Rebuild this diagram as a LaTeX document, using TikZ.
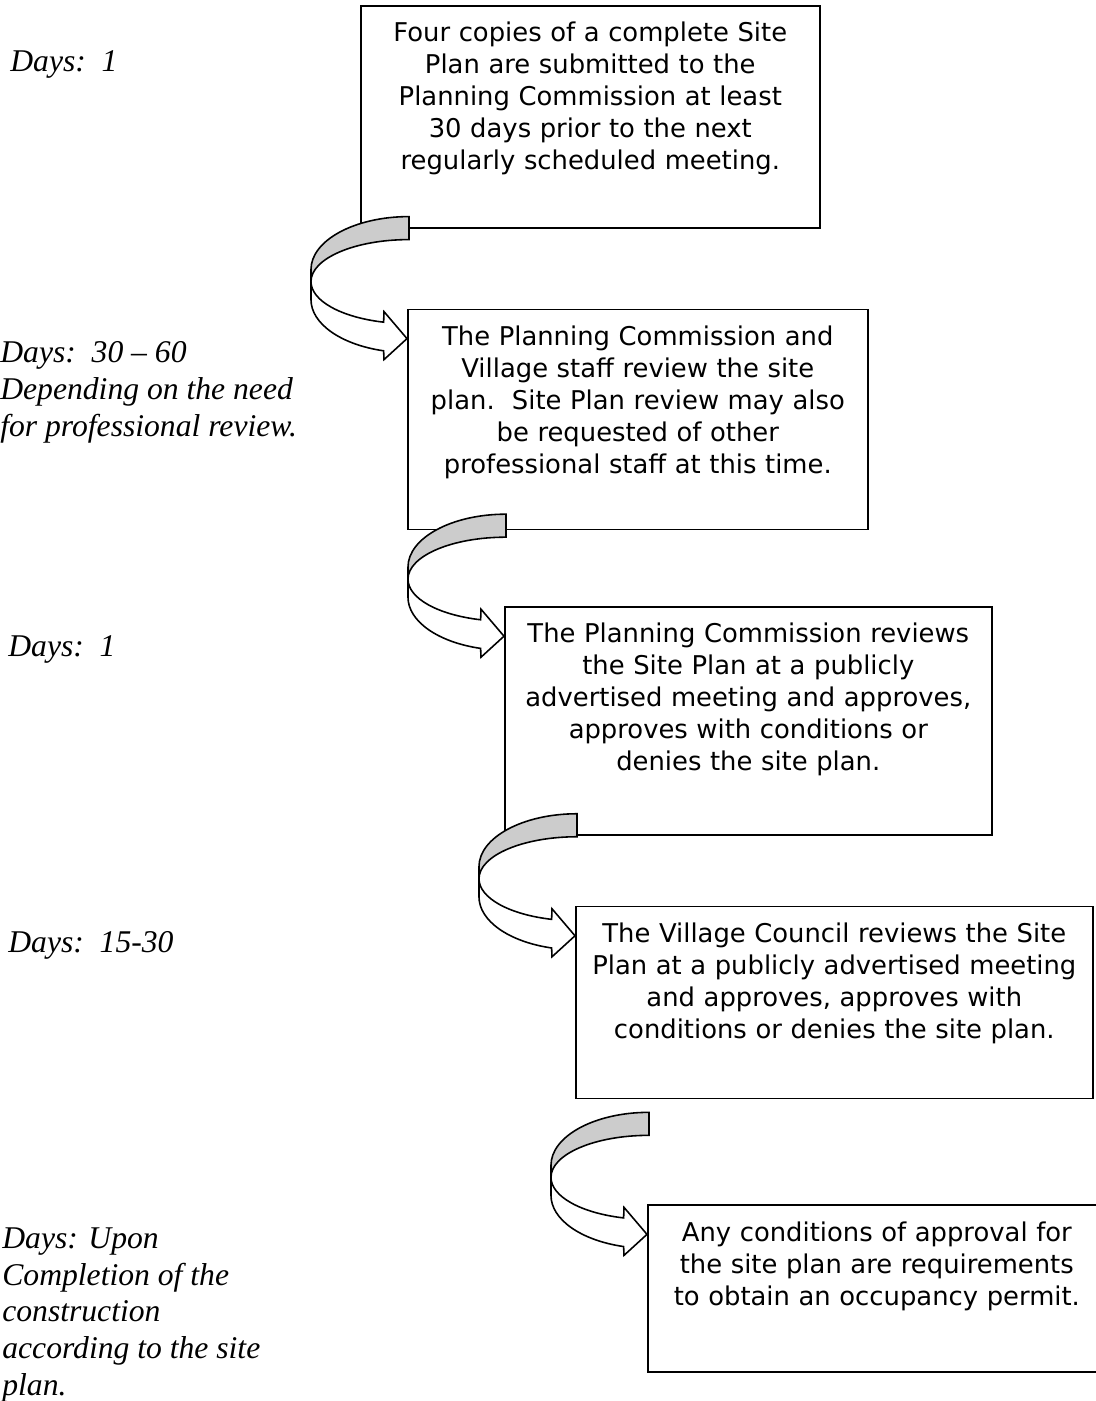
\documentclass[tikz,border=0pt]{standalone}
\usepackage{fontspec}
\setmainfont{Liberation Serif}
\newfontfamily\boxfont{DejaVu Sans}
\usetikzlibrary{positioning, calc}
\definecolor{bandgray}{RGB}{204,204,204}

\begin{document}
\begin{tikzpicture}[
  %% process boxes
  stepbox/.style={
    rectangle, draw=black, line width=0.9pt,
    anchor=north west, inner sep=0pt, align=center,
    text height=0.72cm,
    font=\boxfont\fontsize{14.7}{18.2}\selectfont
  },
  %% day labels (left margin), anchored on the last line
  days/.style={
    anchor=base west, inner sep=0pt, align=left,
    font=\itshape\fontsize{18}{20.8}\selectfont
  },
  %% outline of the curved arrows
  bandline/.style={draw=black, line width=0.9pt, line join=miter},
  %% curved block arrow, origin at the top of its tail
  bendarrow/.pic={
    \begin{scope}[x=0.02cm, y=0.02cm]
      %% back of the band
      \path[bandline, fill=bandgray] (0,0)
        arc[start angle=90, end angle=180, x radius=98, y radius=53]
        -- (-98,-65)
        arc[start angle=180, end angle=90, x radius=98, y radius=42]
        -- cycle;
      %% front of the band and the head
      \path[bandline, fill=white] (-98,-65) -- (-98,-83)
        arc[start angle=180, end angle=255, x radius=98, y radius=53]
        -- (-25,-143) -- (-2,-122) -- (-25,-95) -- (-25.36,-105.57)
        arc[start angle=255, end angle=180, x radius=98, y radius=42]
        -- cycle;
    \end{scope}
  }
]
\useasboundingbox (0,0) rectangle (21.92,-28.02);

%% ================================================================
%% STEPS
%% ================================================================
\node[stepbox, text width=9.18cm, text depth=3.72cm] (plan) at (7.20,-0.10) {
  Four copies of a complete Site\\
  Plan are submitted to the\\
  Planning Commission at least\\
  30 days prior to the next\\
  regularly scheduled meeting.
};

\node[stepbox, text width=9.20cm, text depth=3.68cm,
      below right=1.60cm and 0.94cm of plan.south west] (review) {
  The Planning Commission and\\
  Village staff review the site\\
  plan.\ \ Site Plan review may also\\
  be requested of other\\
  professional staff at this time.
};

\node[stepbox, text width=9.74cm, text depth=3.84cm,
      below right=1.52cm and 1.94cm of review.south west] (pcmeet) {
  The Planning Commission reviews\\
  the Site Plan at a publicly\\
  advertised meeting and approves,\\
  approves with conditions or\\
  denies the site plan.
};

\node[stepbox, text width=10.34cm, text depth=3.12cm,
      below right=1.40cm and 1.42cm of pcmeet.south west] (vcmeet) {
  The Village Council reviews the Site\\
  Plan at a publicly advertised meeting\\
  and approves, approves with\\
  conditions or denies the site plan.
};

\node[stepbox, text width=9.16cm, text depth=2.62cm,
      below right=2.10cm and 1.44cm of vcmeet.south west] (permit) {
  Any conditions of approval for\\
  the site plan are requirements\\
  to obtain an occupancy permit.
};

%% ================================================================
%% CURVED ARROWS (tip on the left edge of the next box)
%% ================================================================
\pic at ($(review.north west)+(0.04,1.84)$) {bendarrow};  %% plan -> review
\pic at ($(pcmeet.north west)+(0.04,1.84)$) {bendarrow};  %% review -> pcmeet
\pic at ($(vcmeet.north west)+(0.04,1.84)$) {bendarrow};  %% pcmeet -> vcmeet
\pic at ($(permit.north west)+(0.04,1.84)$) {bendarrow};  %% vcmeet -> permit

%% ================================================================
%% DAY LABELS (left margin)
%% ================================================================
\node[days] (dplan) at (0.20,-1.42) {Days:\ \ 1};
\node[days] (dreview) at (0.00,-8.72) {Days:\ \ 30 -- 60\\
  Depending on the need\\
  for professional review.};
\node[days] (dpcmeet) at (0.16,-13.12) {Days:\ \ 1};
\node[days] (dvcmeet) at (0.16,-19.04) {Days:\ \ 15-30};
\node[days] (dpermit) at (0.04,-27.90) {Days: Upon\\
  Completion of the\\
  construction\\
  according to the site\\
  plan.};

\end{tikzpicture}
\end{document}
